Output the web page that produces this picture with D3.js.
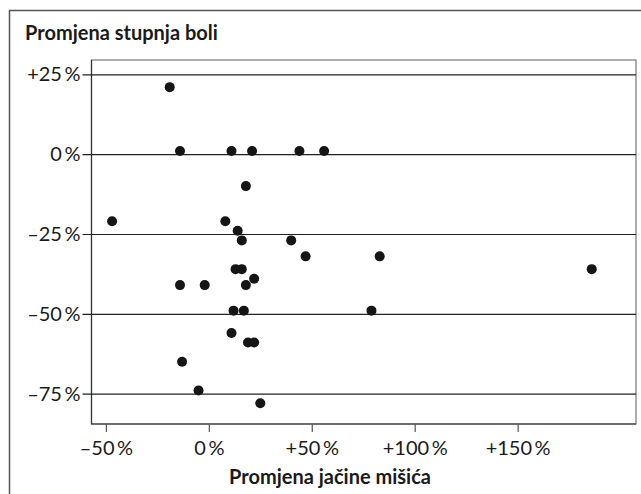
<!DOCTYPE html>
<html>
<head>
<meta charset="utf-8">
<script src="https://cdn.jsdelivr.net/npm/d3@7"></script>
<style>
  body { margin: 0; background: #fff; }
  svg text { font-family: Lato, "Noto Sans", sans-serif; fill: #1a1a1a; }
</style>
</head>
<body>
<div id="chart"></div>
<script>
// promjena jacine misica (x) i promjena stupnja boli (y), u postocima
var strength = [-19, -14, 11, 21, 44, 56, 18, -47, 8, 14, 16, 40,
                47, 13, 16, 22, -14, -2, 18, 12, 17, 11, 19, 22, -13, -5, 25,
                83, 186, 79];
var pain = [21, 1, 1, 1, 1, 1, -10, -21, -21, -24, -27, -27,
            -32, -36, -36, -39, -41, -41, -41, -49, -49, -56, -59, -59, -65, -74, -78,
            -32, -36, -49];
var xTicks = [-50, 0, 50, 100, 150];
var yTicks = [25, 0, -25, -50, -75];
var xTickLabels = ["\u201350\u2009%", "0\u2009%", "+50\u2009%", "+100\u2009%", "+150\u2009%"];
var yTickLabels = ["+25\u2009%", "0\u2009%", "\u201325\u2009%", "\u201350\u2009%", "\u201375\u2009%"];

var W = 641, H = 494;
var pLeft = 91.5, pRight = 636, pTop = 60, pBottom = 424;

var svg = d3.select("#chart").append("svg")
    .attr("width", W)
    .attr("height", H);

// outer frame (only top and left visible)
svg.append("path")
    .attr("d", "M9.5," + H + "V10.5H" + W)
    .attr("fill", "none")
    .attr("stroke", "#555")
    .attr("stroke-width", 1.5);

var x = d3.scaleLinear().domain([-57, 207.5]).range([pLeft, pRight]);
var y = d3.scaleLinear().domain([-84.5, 29.5]).range([pBottom, pTop]);

// plot box
svg.append("rect")
    .attr("x", pLeft).attr("y", pTop)
    .attr("width", pRight - pLeft).attr("height", pBottom - pTop)
    .attr("fill", "none")
    .attr("stroke", "#777")
    .attr("stroke-width", 1.2);
svg.append("path")
    .attr("d", "M" + pLeft + "," + pTop + "V" + pBottom + "H" + pRight)
    .attr("fill", "none")
    .attr("stroke", "#333")
    .attr("stroke-width", 1.2);

// horizontal grid lines with ticks on the left
var yAxis = d3.axisLeft(y)
    .tickValues(yTicks)
    .tickSize(-(pRight - pLeft))
    .tickSizeOuter(0)
    .tickPadding(12)
    .tickFormat(function(d, i) { return yTickLabels[i]; });

var gy = svg.append("g")
    .attr("transform", "translate(" + pLeft + ",0)")
    .call(yAxis);
gy.select(".domain").remove();
gy.selectAll(".tick line")
    .attr("x1", -9)
    .attr("stroke", "#222")
    .attr("stroke-width", 1.2);
gy.selectAll(".tick text")
    .attr("x", -11)
    .style("font-size", "20px")
    .style("font-family", "Lato, 'Noto Sans', sans-serif")
    .attr("fill", "#1a1a1a");

// x axis ticks below the plot
var xAxis = d3.axisBottom(x)
    .tickValues(xTicks)
    .tickSize(8)
    .tickSizeOuter(0)
    .tickPadding(9)
    .tickFormat(function(d, i) { return xTickLabels[i]; });

var gx = svg.append("g")
    .attr("transform", "translate(0," + pBottom + ")")
    .call(xAxis);
gx.select(".domain").remove();
gx.selectAll(".tick line")
    .attr("stroke", "#555")
    .attr("stroke-width", 1.2);
gx.selectAll(".tick text")
    .style("font-size", "20px")
    .style("font-family", "Lato, 'Noto Sans', sans-serif")
    .attr("fill", "#1a1a1a");

// dots
svg.append("g")
    .selectAll("circle")
    .data(strength)
    .join("circle")
    .attr("cx", function(d) { return x(d); })
    .attr("cy", function(d, i) { return y(pain[i]); })
    .attr("r", 5)
    .attr("fill", "#151515");

// titles
svg.append("text")
    .attr("x", 25)
    .attr("y", 40)
    .style("font-size", "20px")
    .style("font-weight", 700)
    .text("Promjena stupnja boli");

svg.append("text")
    .attr("x", 330)
    .attr("y", 484)
    .attr("text-anchor", "middle")
    .style("font-size", "20px")
    .style("font-weight", 700)
    .text("Promjena jačine mišića");
</script>
</body>
</html>
